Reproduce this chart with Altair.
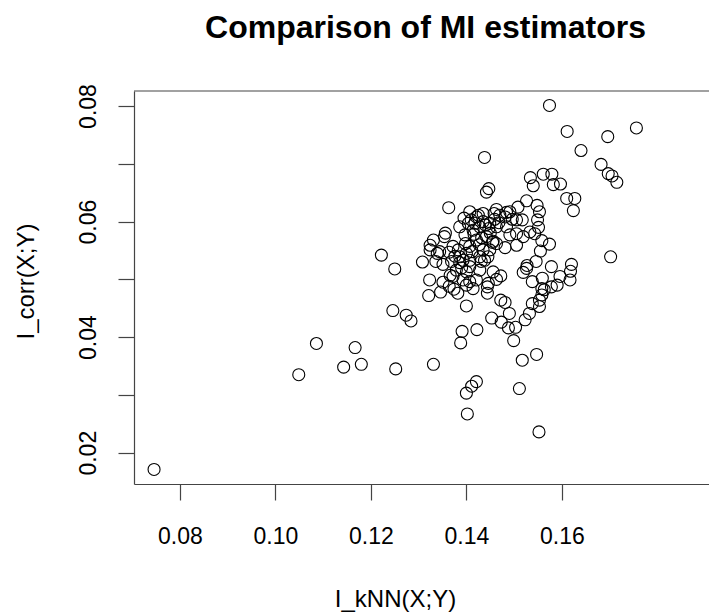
import altair as alt
import pandas as pd

# I_kNN(X;Y) estimates (x axis)
i_knn = [
    0.0746, 0.1049, 0.1086, 0.1143, 0.1167, 0.1180, 0.1252, 0.1222, 0.1250, 0.1246,
    0.1274, 0.1284, 0.1331, 0.1438, 0.1574, 0.1611, 0.1640, 0.1696, 0.1756, 0.1682,
    0.1697, 0.1705, 0.1715, 0.1702, 0.1402, 0.1552, 0.1400, 0.1411, 0.1421, 0.1511,
    0.1517, 0.1547, 0.1499, 0.1388, 0.1391, 0.1422, 0.1453, 0.1473, 0.1488, 0.1503,
    0.1490, 0.1523, 0.1532, 0.1472, 0.1481, 0.1400, 0.1321, 0.1346, 0.1323, 0.1308,
    0.1363, 0.1442, 0.1447, 0.1534, 0.1540, 0.1561, 0.1579, 0.1582, 0.1597, 0.1610,
    0.1627, 0.1624, 0.1526, 0.1508, 0.1548, 0.1553, 0.1549, 0.1551, 0.1533, 0.1558,
    0.1574, 0.1555, 0.1546, 0.1527, 0.1519, 0.1578, 0.1620, 0.1618, 0.1617, 0.1596,
    0.1590, 0.1578, 0.1559, 0.1538, 0.1558, 0.1563, 0.1558, 0.1538, 0.1553, 0.1553,
    0.1505, 0.1496, 0.1517, 0.1491, 0.1505, 0.1481, 0.1491, 0.1484, 0.1463, 0.1458,
    0.1407, 0.1395, 0.1386, 0.1421, 0.1435, 0.1449, 0.1428, 0.1414, 0.1397, 0.1356,
    0.1354, 0.1331, 0.1324, 0.1324, 0.1339, 0.1364, 0.1383, 0.1386, 0.1407, 0.1435,
    0.1455, 0.1456, 0.1442, 0.1421, 0.1336, 0.1351, 0.1369, 0.1386, 0.1407, 0.1431,
    0.1445, 0.1379, 0.1400, 0.1428, 0.1456, 0.1472, 0.1463, 0.1446, 0.1421, 0.1407,
    0.1393, 0.1351, 0.1364, 0.1374, 0.1382, 0.1444, 0.1444, 0.1366, 0.1470, 0.1484,
    0.1463, 0.1404, 0.1418, 0.1400, 0.1428, 0.1449, 0.1438, 0.1526, 0.1543, 0.1505,
    0.1519, 0.1407, 0.1393, 0.1372, 0.1344, 0.1414, 0.1400, 0.1463, 0.1481, 0.1435,
    0.1410, 0.1425, 0.1440, 0.1447, 0.1416, 0.1432, 0.1450, 0.1398, 0.1412, 0.1427,
    0.1376, 0.1390, 0.1372, 0.1459, 0.1468,
]

# I_corr(X;Y) estimates (y axis)
i_corr = [
    0.0171, 0.0335, 0.0389, 0.0348, 0.0382, 0.0353, 0.0345, 0.0542, 0.0518, 0.0446,
    0.0438, 0.0428, 0.0353, 0.0711, 0.0801, 0.0756, 0.0723, 0.0747, 0.0762, 0.0699,
    0.0683, 0.0679, 0.0668, 0.0539, 0.0267, 0.0236, 0.0303, 0.0315, 0.0323, 0.0311,
    0.0360, 0.0370, 0.0394, 0.0390, 0.0410, 0.0413, 0.0433, 0.0426, 0.0416, 0.0417,
    0.0441, 0.0430, 0.0441, 0.0464, 0.0460, 0.0454, 0.0472, 0.0478, 0.0499, 0.0530,
    0.0624, 0.0651, 0.0657, 0.0676, 0.0662, 0.0682, 0.0682, 0.0664, 0.0665, 0.0640,
    0.0640, 0.0619, 0.0636, 0.0625, 0.0628, 0.0617, 0.0603, 0.0590, 0.0582, 0.0567,
    0.0561, 0.0549, 0.0531, 0.0524, 0.0512, 0.0522, 0.0526, 0.0514, 0.0499, 0.0505,
    0.0490, 0.0487, 0.0502, 0.0496, 0.0484, 0.0482, 0.0473, 0.0458, 0.0453, 0.0464,
    0.0603, 0.0604, 0.0603, 0.0577, 0.0559, 0.0555, 0.0617, 0.0616, 0.0621, 0.0614,
    0.0617, 0.0606, 0.0591, 0.0608, 0.0600, 0.0597, 0.0591, 0.0585, 0.0577, 0.0580,
    0.0574, 0.0568, 0.0559, 0.0551, 0.0545, 0.0547, 0.0551, 0.0539, 0.0557, 0.0551,
    0.0564, 0.0566, 0.0574, 0.0568, 0.0531, 0.0526, 0.0531, 0.0529, 0.0533, 0.0531,
    0.0539, 0.0516, 0.0513, 0.0516, 0.0513, 0.0506, 0.0500, 0.0493, 0.0499, 0.0496,
    0.0499, 0.0495, 0.0488, 0.0483, 0.0476, 0.0476, 0.0487, 0.0507, 0.0611, 0.0591,
    0.0591, 0.0597, 0.0597, 0.0545, 0.0539, 0.0551, 0.0533, 0.0519, 0.0579, 0.0579,
    0.0574, 0.0522, 0.0533, 0.0557, 0.0548, 0.0484, 0.0490, 0.0562, 0.0608, 0.0614,
    0.0603, 0.0611, 0.0594, 0.0588, 0.0578, 0.0572, 0.0580, 0.0562, 0.0548, 0.0560,
    0.0540, 0.0520, 0.0505, 0.0604, 0.0598,
]

x_ticks = [0.08, 0.10, 0.12, 0.14, 0.16]
y_ticks = [0.02, 0.03, 0.04, 0.05, 0.06, 0.07, 0.08]

df = pd.DataFrame({"knn": i_knn, "corr": i_corr})

W, H = 575, 393
FONT = "Liberation Sans"
AX = "#444444"

points = alt.Chart(df).mark_point(
    shape="circle", filled=False, size=144, stroke="black", strokeWidth=1.1, opacity=1
).encode(
    x=alt.X(
        "knn:Q",
        scale=alt.Scale(domain=[0.0704, 0.1908], nice=False, zero=False),
        axis=alt.Axis(
            values=x_ticks, format=".2f", title="I_kNN(X;Y)",
            labelBaseline="top", labelPadding=25, labelFlush=False, labelOverlap=False,
            titleX=261, titleY=122, titleAlign="center", titleBaseline="alphabetic",
            titleAngle=0,
        ),
    ),
    y=alt.Y(
        "corr:Q",
        scale=alt.Scale(domain=[0.01458, 0.0826], nice=False, zero=False),
        axis=alt.Axis(
            values=y_ticks, title="I_corr(X;Y)",
            labelExpr="(round(datum.value*100) % 2 == 0) ? format(datum.value, '.2f') : ''",
            labelAngle=270, labelAlign="center", labelBaseline="alphabetic",
            labelPadding=23, labelFlush=False, labelOverlap=False,
            titleX=-101, titleY=190, titleAngle=270, titleAlign="center",
            titleBaseline="alphabetic",
        ),
    ),
)

top_line = alt.Chart(pd.DataFrame({"k": [0]})).mark_rule(
    color=AX, strokeWidth=1.2
).encode(x=alt.value(0), x2=alt.value(W), y=alt.value(0))

chart = alt.layer(points, top_line).properties(
    width=W,
    height=H,
    background="white",
    title=alt.TitleParams(
        "Comparison of MI estimators",
        font=FONT, fontSize=32, fontWeight="bold", color="black",
        anchor="middle", dx=4, offset=14, baseline="alphabetic",
    ),
    autosize=alt.AutoSizeParams(type="none"),
    padding={"left": 134, "top": 91, "right": 0, "bottom": 132},
).configure_view(
    stroke=None
).configure_axis(
    grid=False,
    domain=True, domainColor=AX, domainWidth=1.2,
    ticks=True, tickColor=AX, tickWidth=1.2, tickSize=16,
    labelFont=FONT, labelFontSize=23, labelColor="black",
    titleFont=FONT, titleFontSize=24, titleFontWeight="normal", titleColor="black",
)

chart.save("out.html", embed_options={"renderer": "svg", "actions": False})
